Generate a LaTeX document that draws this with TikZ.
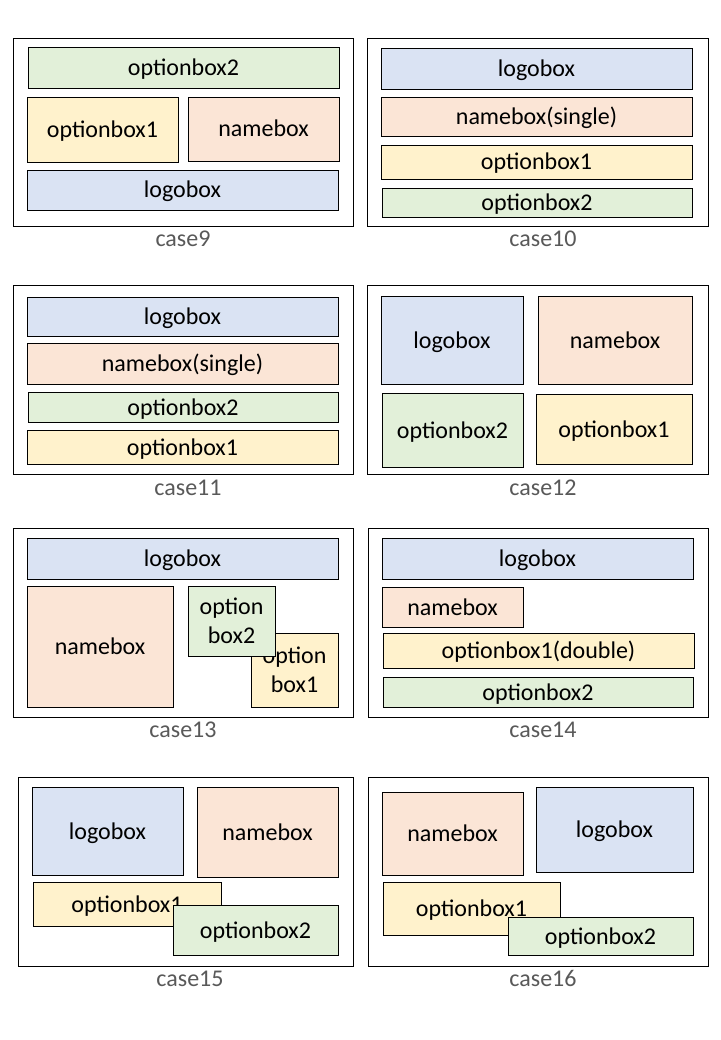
\documentclass[tikz,border=0pt]{standalone}
\usepackage{fontspec}
\setmainfont{Carlito}
\definecolor{cblue}{HTML}{DAE3F3}
\definecolor{cpeach}{HTML}{FBE5D6}
\definecolor{cyellow}{HTML}{FFF2CC}
\definecolor{cgreen}{HTML}{E2F0D9}
\definecolor{lblgray}{HTML}{595959}
\newcommand\bx[7]{\node[#6, minimum width={#4-#2}, minimum height={#5-#3}] (#1) at ({(#2+#4)/2},{(#3+#5)/2}) {#7};}
\tikzset{
  base/.style={draw=black, line width=0.8pt, inner sep=0pt, outer sep=0pt, rectangle, font=\fontsize{24}{29}\selectfont, text=black, text height=19pt, text depth=3pt},
  frame/.style={base, fill=white},
  bluebox/.style={base, fill=cblue},
  peachbox/.style={base, fill=cpeach},
  yellowbox/.style={base, fill=cyellow},
  greenbox/.style={base, fill=cgreen},
  twoline/.style={align=center, text height=, text depth=},
  caselbl/.style={font=\fontsize{24}{28}\selectfont, text=lblgray, inner sep=0pt, anchor=base}
}
\begin{document}
\begin{tikzpicture}[x=1pt,y=-1pt]
\useasboundingbox[fill=white] (0,0) rectangle (720,1040);
% case9
\bx{f9}{13}{38}{353}{226}{frame}{}
\bx{c9o2}{28}{47}{339}{88}{greenbox}{optionbox2}
\bx{c9o1}{27}{97}{178}{162}{yellowbox}{optionbox1}
\bx{c9n}{188}{97}{339}{161}{peachbox}{namebox}
\bx{c9l}{27}{170}{338}{210}{bluebox}{logobox}
\node[caselbl] (l9) at (183,247) {case9};
% case10
\bx{f10}{367}{38}{708}{226}{frame}{}
\bx{c10l}{381}{48}{692}{89}{bluebox}{logobox}
\bx{c10n}{381}{97}{692}{136}{peachbox}{namebox(single)}
\bx{c10o1}{381}{145}{692}{179}{yellowbox}{optionbox1}
\bx{c10o2}{382}{188}{692}{217}{greenbox}{optionbox2}
\node[caselbl] (l10) at (543,247) {case10};
% case11
\bx{f11}{13}{285}{353}{474}{frame}{}
\bx{c11l}{27}{297}{338}{336}{bluebox}{logobox}
\bx{c11n}{27}{343}{338}{384}{peachbox}{namebox(single)}
\bx{c11o2}{28}{392}{338}{422}{greenbox}{optionbox2}
\bx{c11o1}{27}{430}{338}{464}{yellowbox}{optionbox1}
\node[caselbl] (l11) at (188,495) {case11};
% case12
\bx{f12}{367}{285}{708}{474}{frame}{}
\bx{c12l}{381}{296}{523}{384}{bluebox}{logobox}
\bx{c12n}{538}{296}{692}{384}{peachbox}{namebox}
\bx{c12o2}{382}{393}{523}{467}{greenbox}{optionbox2}
\bx{c12o1}{536}{394}{692}{464}{yellowbox}{optionbox1}
\node[caselbl] (l12) at (543,495) {case12};
% case13
\bx{f13}{13}{528}{353}{717}{frame}{}
\bx{c13l}{27}{538}{338}{579}{bluebox}{logobox}
\bx{c13n}{27}{586}{173}{707}{peachbox}{namebox}
\bx{c13o1}{251}{633}{338}{707}{yellowbox,twoline}{option\\box1}
\bx{c13o2}{188}{586}{275}{656}{greenbox,twoline}{option\\box2}
\node[caselbl] (l13) at (183,737) {case13};
% case14
\bx{f14}{368}{528}{708}{717}{frame}{}
\bx{c14l}{382}{538}{693}{579}{bluebox}{logobox}
\bx{c14n}{382}{587}{523}{627}{peachbox}{namebox}
\bx{c14o1}{383}{633}{694}{668}{yellowbox}{optionbox1(double)}
\bx{c14o2}{383}{677}{693}{707}{greenbox}{optionbox2}
\node[caselbl] (l14) at (543,737) {case14};
% case15
\bx{f15}{18}{777}{353}{966}{frame}{}
\bx{c15l}{32}{787}{183}{875}{bluebox}{logobox}
\bx{c15n}{197}{787}{338}{877}{peachbox}{namebox}
\bx{c15o1}{33}{882}{221}{926}{yellowbox}{optionbox1}
\bx{c15o2}{173}{905}{338}{955}{greenbox}{optionbox2}
\node[caselbl] (l15) at (190,986) {case15};
% case16
\bx{f16}{368}{777}{708}{966}{frame}{}
\bx{c16n}{382}{792}{523}{875}{peachbox}{namebox}
\bx{c16l}{536}{787}{693}{872}{bluebox}{logobox}
\bx{c16o1}{383}{882}{560}{935}{yellowbox}{optionbox1}
\bx{c16o2}{508}{917}{693}{955}{greenbox}{optionbox2}
\node[caselbl] (l16) at (543,986) {case16};
\end{tikzpicture}
\end{document}
